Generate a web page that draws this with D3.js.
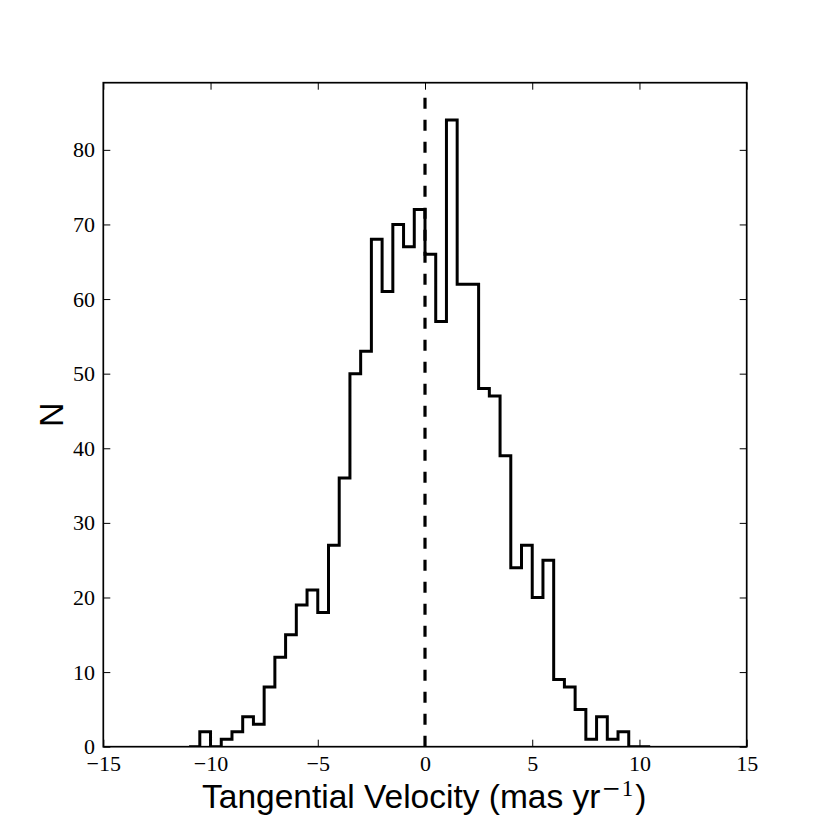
<!DOCTYPE html>
<html>
<head>
<meta charset="utf-8">
<script src="https://cdn.jsdelivr.net/npm/d3@7"></script>
<style>
  html, body { margin: 0; padding: 0; background: #ffffff; }
  svg { display: block; }
</style>
</head>
<body>
<svg id="chart" width="830" height="830"></svg>
<script>
// ---------------- data ----------------
const binEdges = [-11, -10.5, -10, -9.5, -9, -8.5, -8, -7.5, -7, -6.5, -6, -5.5, -5, -4.5, -4,
  -3.5, -3, -2.5, -2, -1.5, -1, -0.5, 0, 0.5, 1, 1.5, 2, 2.5, 3, 3.5, 4, 4.5, 5, 5.5, 6,
  6.5, 7, 7.5, 8, 8.5, 9, 9.5, 10, 10.5];
const counts = [0, 2, 0, 1, 2, 4, 3, 8, 12, 15, 19, 21, 18, 27, 36,
  50, 53, 68, 61, 70, 67, 72, 66, 57, 84, 62, 62, 48, 47, 39, 24,
  27, 20, 25, 9, 8, 5, 1, 4, 1, 2, 0, 0];
const xTicks = [-15, -10, -5, 0, 5, 10, 15];
const xTickLabels = ["\u221215", "\u221210", "\u22125", "0", "5", "10", "15"];
const yTicks = [0, 10, 20, 30, 40, 50, 60, 70, 80];
const yTickLabels = ["0", "10", "20", "30", "40", "50", "60", "70", "80"];
const xDomain = [-15, 15];
const yDomain = [0, 89];
const refLineX = 0;
const refLineY = [0, 88];
const xLabelText = "Tangential Velocity (mas yr";
const xLabelSupSign = "\u2212";
const xLabelSupNum = "1";
const yLabelText = "N";

// ---------------- layout ----------------
const W = 830, H = 830;
const box = { left: 103.3, right: 746.7, top: 82.7, bottom: 746.7 };
const tickFont = "'Liberation Serif', 'Times New Roman', serif";
const labelFont = "'Liberation Sans', Arial, Helvetica, sans-serif";

const svg = d3.select("#chart");
svg.append("rect").attr("width", W).attr("height", H).attr("fill", "#ffffff");

const x = d3.scaleLinear().domain(xDomain).range([box.left, box.right]);
const y = d3.scaleLinear().domain(yDomain).range([box.bottom, box.top]);

svg.append("defs").append("clipPath").attr("id", "plotclip")
  .append("rect")
  .attr("x", box.left).attr("y", box.top)
  .attr("width", box.right - box.left).attr("height", box.bottom - box.top);

const plot = svg.append("g").attr("clip-path", "url(#plotclip)");

// step histogram outline
const pts = [[binEdges[0], 0]];
counts.forEach((c, i) => {
  pts.push([binEdges[i], c]);
  pts.push([binEdges[i + 1], c]);
});
pts.push([binEdges[binEdges.length - 1], 0]);

plot.append("path")
  .datum(pts)
  .attr("d", d3.line().x(d => x(d[0])).y(d => y(d[1])))
  .attr("fill", "none")
  .attr("stroke", "#000")
  .attr("stroke-width", 3)
  .attr("stroke-linejoin", "miter");

// dashed reference line
plot.append("line")
  .attr("x1", x(refLineX)).attr("x2", x(refLineX))
  .attr("y1", y(refLineY[0])).attr("y2", y(refLineY[1]))
  .attr("stroke", "#000")
  .attr("stroke-width", 3.2)
  .attr("stroke-dasharray", "11,11");

// axes (ticks inward on all four sides)
const tickLen = 7;
function styleAxis(g) {
  g.select(".domain").remove();
  g.selectAll(".tick line").attr("stroke", "#000").attr("stroke-width", 1);
  g.selectAll(".tick text")
    .attr("fill", "#000")
    .style("font-family", tickFont)
    .style("font-size", "22px");
}

svg.append("g")
  .attr("transform", `translate(0,${box.bottom})`)
  .call(d3.axisBottom(x).tickValues(xTicks)
    .tickFormat((d, i) => xTickLabels[i])
    .tickSizeInner(-tickLen).tickSizeOuter(0).tickPadding(8.4))
  .call(styleAxis);

svg.append("g")
  .attr("transform", `translate(0,${box.top})`)
  .call(d3.axisTop(x).tickValues(xTicks).tickFormat("")
    .tickSizeInner(-tickLen).tickSizeOuter(0))
  .call(styleAxis);

svg.append("g")
  .attr("transform", `translate(${box.left},0)`)
  .call(d3.axisLeft(y).tickValues(yTicks)
    .tickFormat((d, i) => yTickLabels[i])
    .tickSizeInner(-tickLen).tickSizeOuter(0).tickPadding(8.3))
  .call(styleAxis);

svg.append("g")
  .attr("transform", `translate(${box.right},0)`)
  .call(d3.axisRight(y).tickValues(yTicks).tickFormat("")
    .tickSizeInner(-tickLen).tickSizeOuter(0))
  .call(styleAxis);

// frame
svg.append("rect")
  .attr("x", box.left).attr("y", box.top)
  .attr("width", box.right - box.left).attr("height", box.bottom - box.top)
  .attr("fill", "none")
  .attr("stroke", "#000")
  .attr("stroke-width", 1.7);

// x label
const xl = svg.append("text")
  .attr("x", 202)
  .attr("y", 807.5)
  .attr("fill", "#000")
  .style("font-family", labelFont)
  .style("font-size", "33.5px");
xl.append("tspan").text(xLabelText);
xl.append("tspan")
  .attr("dx", 1)
  .attr("dy", -12)
  .style("font-family", "'DejaVu Serif', serif")
  .style("font-size", "23px")
  .text(xLabelSupSign);
xl.append("tspan")
  .attr("dx", 1)
  .style("font-family", tickFont)
  .style("font-size", "23px")
  .text(xLabelSupNum);
xl.append("tspan")
  .attr("dx", 2)
  .attr("dy", 12)
  .text(")");

// y label
svg.append("text")
  .attr("transform", `translate(63.3,${(box.top + box.bottom) / 2}) rotate(-90)`)
  .attr("text-anchor", "middle")
  .attr("fill", "#000")
  .style("font-family", labelFont)
  .style("font-size", "34px")
  .text(yLabelText);
</script>
</body>
</html>
